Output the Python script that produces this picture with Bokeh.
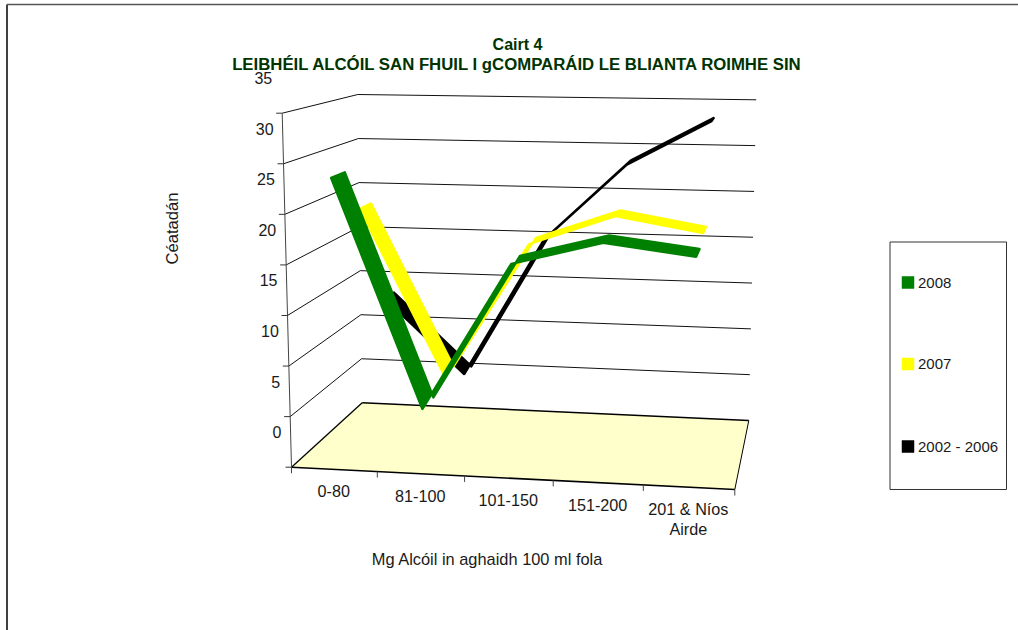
from math import pi
from bokeh.core.properties import value
from bokeh.embed import file_html
from bokeh.models import Range1d
from bokeh.plotting import figure
from bokeh.resources import INLINE

# ---- data ----
categories = ["0-80", "81-100", "101-150", "151-200", "201 & Níos\nAirde"]
y_ticks = [0, 5, 10, 15, 20, 25, 30, 35]
series_2008 = [28.6, 6.1, 20.6, 22.9, 21.8]
series_2007 = [24.2, 7.1, 21.0, 24.1, 22.6]
series_2002_2006 = [13.0, 5.1, 20.0, 28.3, 33.1]
legend_labels = ["2008", "2007", "2002 - 2006"]
title_top = "Cairt 4"
title_main = "LEIBHÉIL ALCÓIL SAN FHUIL I gCOMPARÁID LE BLIANTA ROIMHE SIN"
x_title = "Mg Alcóil in aghaidh 100 ml fola"
y_title = "Céatadán"

# ---- styles ----
GREEN, YELLOW, BLACK = "#008000", "#FFFF00", "#000000"
FLOOR = "#FFFFCC"
TITLE_COLOR = "#003300"
TEXT_COLOR = "#1a1a1a"
FONT = value("Liberation Sans")
VMAX = 35.0

# ---- projection of the 3D box (screen corners) ----
FF0, FF1 = (291.0, 466.7), (734.3, 489.0)   # floor, front edge
FB0, FB1 = (361.7, 402.3), (748.3, 420.0)   # floor, back edge
TF0, TF1 = (281.7, 112.7), (747.0, 120.0)   # top, front edge
TB0, TB1 = (357.3, 94.0), (755.7, 99.3)     # top, back edge


def lerp(a, b, t):
    return (a[0] + (b[0] - a[0]) * t, a[1] + (b[1] - a[1]) * t)


def proj(u, w, v):
    """u: along categories 0..1, w: depth 0..1, v: data value."""
    uu = u * (1 - 0.04 * (1 - u))
    floor = lerp(lerp(FF0, FF1, uu), lerp(FB0, FB1, uu), w)
    top = lerp(lerp(TF0, TF1, uu), lerp(TB0, TB1, uu), w)
    return lerp(floor, top, v / VMAX)


p = figure(width=1018, height=630, output_backend="svg", toolbar_location=None,
           x_range=Range1d(0, 1018), y_range=Range1d(630, 0),
           min_border=0, outline_line_color=None)
p.axis.visible = False
p.grid.visible = False

# outer frame
p.line([6.5, 6.5], [4, 630], line_color="#000000", line_width=1.5)
p.line([6.5, 1018], [4, 4], line_color="#555555", line_width=1.5)

# walls: gridlines
for t in y_ticks[1:]:
    a, b, c = proj(0, 0, t), proj(0, 1, t), proj(1, 1, t)
    p.line([a[0], b[0], c[0]], [a[1], b[1], c[1]], line_color="#111111", line_width=1)

# floor
corners = [proj(0, 0, 0), proj(1, 0, 0), proj(1, 1, 0), proj(0, 1, 0)]
p.patch([c[0] for c in corners], [c[1] for c in corners], fill_color=FLOOR, line_color=None)
for a, b, lw in [(corners[0], corners[1], 1.6), (corners[3], corners[2], 1.6),
                 (corners[0], corners[3], 1.3), (corners[1], corners[2], 1.0)]:
    p.line([a[0], b[0]], [a[1], b[1]], line_color="#000000", line_width=lw)

# value axis
a, b = proj(0, 0, 0), proj(0, 0, VMAX)
p.line([a[0], b[0]], [a[1], b[1]], line_color="#444444", line_width=1)
for t in y_ticks:
    q = proj(0, 0, t)
    p.line([q[0] - 6, q[0]], [q[1], q[1]], line_color="#333333", line_width=1)
    p.text([q[0] - 10], [q[1] - 35], text=[str(t)], text_font=FONT, text_font_size="16px",
           text_align="right", text_baseline="middle", text_color=TEXT_COLOR)

# category axis
n = len(categories)
for i in range(n + 1):
    q = proj(i / n, 0, 0)
    p.line([q[0], q[0]], [q[1], q[1] + 6], line_color="#444444", line_width=1)
for i, cat in enumerate(categories):
    q = proj((i + 0.5) / n, 0, 0)
    for j, part in enumerate(cat.split("\n")):
        p.text([q[0] - 0.5], [q[1] + 22 + 20 * j], text=[part], text_font=FONT,
               text_font_size="16.2px", text_align="center", text_baseline="middle",
               text_color=TEXT_COLOR)

# ribbons, back to front
ribbons = [(series_2002_2006, BLACK, 0.87, 0.13, 2.5),
           (series_2007, YELLOW, 0.53, 0.17, 2.0),
           (series_2008, GREEN, 0.14, 0.20, 2.5)]
for vals, col, w, dw, lw in ribbons:
    front = [proj((i + 0.5) / n, w - dw / 2, v) for i, v in enumerate(vals)]
    back = [proj((i + 0.5) / n, w + dw / 2, v) for i, v in enumerate(vals)]
    ring = front + back[::-1]
    p.patch([c[0] for c in ring], [c[1] for c in ring], fill_color=col,
            line_color=col, line_width=lw, line_join="round")

# titles
p.text([517], [44], text=[title_top], text_font=FONT, text_font_style="bold", text_font_size="16px",
       text_align="center", text_baseline="middle", text_color=TITLE_COLOR)
p.text([517], [64], text=[title_main], text_font=FONT, text_font_style="bold", text_font_size="16.75px",
       text_align="center", text_baseline="middle", text_color=TITLE_COLOR)
p.text([487], [558.5], text=[x_title], text_font=FONT, text_font_size="16.4px",
       text_align="center", text_baseline="middle", text_color=TEXT_COLOR)
p.text([172], [228], text=[y_title], angle=pi / 2, text_font=FONT, text_font_size="16.6px",
       text_align="center", text_baseline="middle", text_color=TEXT_COLOR)

# legend
p.quad(left=[889.5], right=[1006], top=[241.5], bottom=[489], fill_color="#FFFFFF",
       line_color="#333333", line_width=1)
for label, col, y in zip(legend_labels, [GREEN, YELLOW, BLACK], [282, 363.5, 446]):
    p.rect([907.5], [y], width=12, height=12, fill_color=col, line_color=col, line_width=0.5)
    p.text([917.5], [y], text=[label], text_font=FONT, text_font_size="15px",
           text_align="left", text_baseline="middle", text_color=TEXT_COLOR)

open("out.html", "w").write(file_html(p, INLINE))
